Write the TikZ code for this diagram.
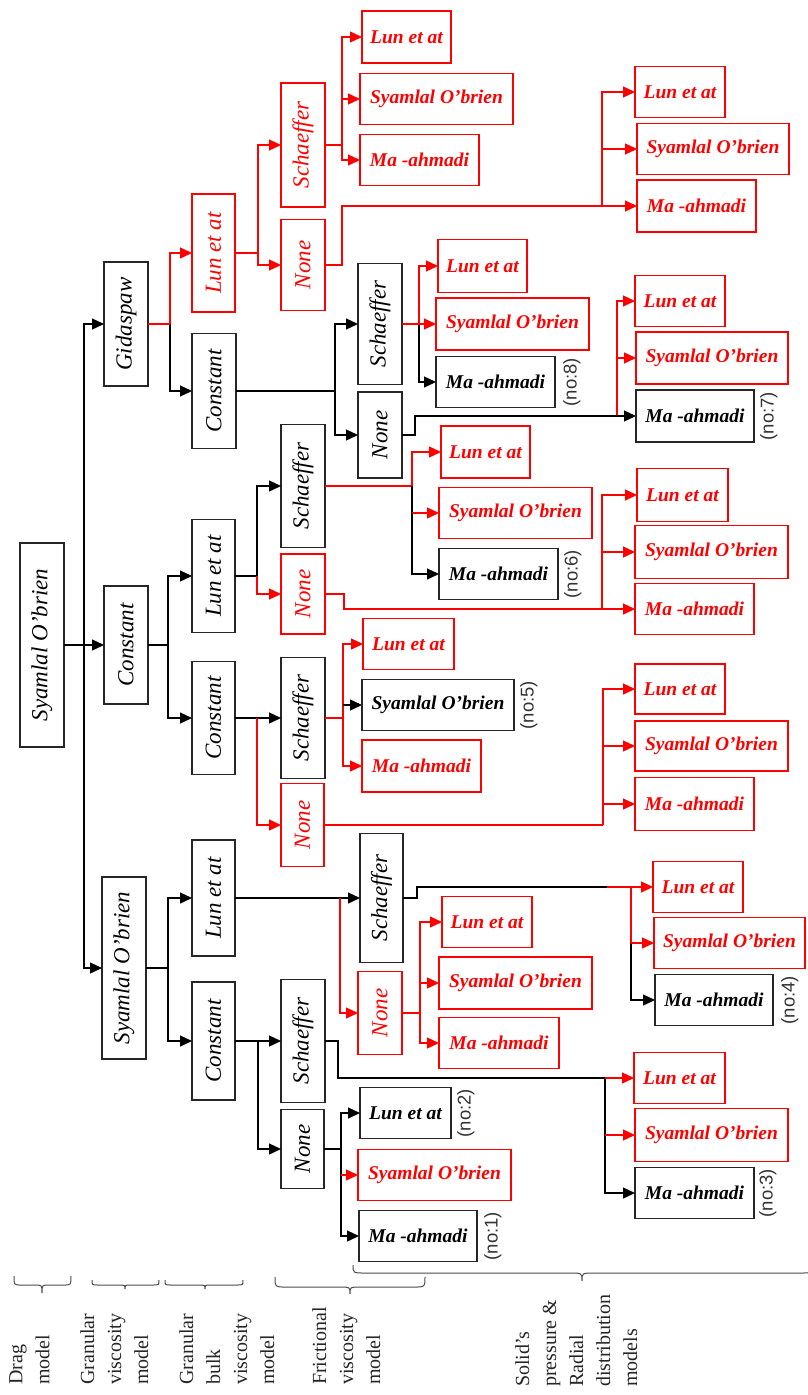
\documentclass[tikz,border=0pt]{standalone}
\usepackage{fontspec}
\setmainfont{Liberation Serif}
\newfontfamily\nofont{Liberation Sans}
\usepackage{graphicx}
\usetikzlibrary{arrows.meta}
\newcommand{\mkV}[6]{\node[bx,#1,minimum width=#4pt,minimum height=#5pt] (#2) at (#3) {\rotatebox{90}{#6}};}
\newcommand{\mkH}[6]{\node[bx,ht,#1,minimum width=#4pt,minimum height=#5pt] (#2) at (#3) {#6};}
\newcommand{\mybrace}[7]{%
\draw[brc] (#1,#4) .. controls (#1,#5) .. ({#1+#7},#5) -- ({#3-#7},#5) .. controls (#3,#5) .. (#3,#6) .. controls (#3,#5) .. ({#3+#7},#5) -- ({#2-#7},#5) .. controls (#2,#5) .. (#2,#4);}
\begin{document}
\begin{tikzpicture}[x=1pt,y=-1pt,
 bx/.style={draw=black!85, line width=1.4pt, inner sep=0pt, outer sep=0pt, text=black},
 rd/.style={draw=red, text=red},
 vt/.style={font=\fontsize{23}{27}\selectfont\itshape},
 ht/.style={font=\fontsize{19.5}{23}\selectfont\bfseries\itshape},
 ln/.style={line width=1.3pt, draw=black},
 rl/.style={line width=1.3pt, draw=red},
 ar/.style={-{Triangle[length=12pt,width=11pt]}},
 nol/.style={rotate=90, anchor=north, font=\nofont\fontsize{18.5}{21}\selectfont, text=black!80, inner sep=0pt},
 lab/.style={rotate=90, anchor=north west, align=left, font=\fontsize{20}{27}\selectfont, inner sep=0pt, text=black!85},
 brc/.style={line width=1pt, draw=black!70}]
\fill[white] (0,0) rectangle (807,1395);
\useasboundingbox (0,0) rectangle (807,1395);
% Level 0
\mkV{vt}{root}{42,645}{44}{204}{Syamlal O’brien}
% Level 1
\mkV{vt}{gA}{126,324}{44}{124}{Gidaspaw}
\mkV{vt}{cA}{126,645}{44}{118}{Constant}
\mkV{vt}{sA}{124,968}{44}{182}{Syamlal O’brien}
% Level 2
\mkV{vt,rd}{gL}{213.5,253}{43}{118}{Lun et at}
\mkV{vt}{gC}{214,391}{44}{115}{Constant}
\mkV{vt}{cL}{213.5,576}{43}{113}{Lun et at}
\mkV{vt}{cC}{213.5,718}{43}{113}{Constant}
\mkV{vt}{sL}{213.5,898}{43}{116}{Lun et at}
\mkV{vt}{sC}{213.5,1041}{43}{118}{Constant}
% Level 3
\mkV{vt,rd}{gLs}{303,145}{44}{124}{Schaeffer}
\mkV{vt,rd}{gLn}{303,265}{44}{91}{None}
\mkV{vt}{gCs}{380,324}{44}{121}{Schaeffer}
\mkV{vt}{gCn}{380,435}{44}{86}{None}
\mkV{vt}{cLs}{303,486}{44}{123}{Schaeffer}
\mkV{vt,rd}{cLn}{303,594}{44}{80}{None}
\mkV{vt}{cCs}{303,718}{44}{121}{Schaeffer}
\mkV{vt,rd}{cCn}{302.5,825}{43}{83}{None}
\mkV{vt}{sLs}{381.5,898}{43}{129}{Schaeffer}
\mkV{vt,rd}{sLn}{380,1013}{44}{83}{None}
\mkV{vt}{sCs}{303,1041}{44}{123}{Schaeffer}
\mkV{vt}{sCn}{302.5,1149}{43}{79}{None}
% Leaves
\mkH{rd}{a1}{406.5,37}{89}{52}{Lun et at}
\mkH{rd}{a2}{436.5,99}{153}{51}{Syamlal O’brien}
\mkH{rd}{a3}{419.5,160}{119}{51}{Ma -ahmadi}
\mkH{rd}{b1}{680,92}{90}{51}{Lun et at}
\mkH{rd}{b2}{713,149}{152}{51}{Syamlal O’brien}
\mkH{rd}{b3}{696.5,206}{119}{52}{Ma -ahmadi}
\mkH{rd}{c1l}{482.5,266}{89}{53}{Lun et at}
\mkH{rd}{c2}{512.5,324}{153}{52}{Syamlal O’brien}
\mkH{}{c3}{495.5,382}{119}{51}{Ma -ahmadi}
\mkH{rd}{d1}{680,301}{90}{51}{Lun et at}
\mkH{rd}{d2}{712,358}{152}{52}{Syamlal O’brien}
\mkH{}{d3}{695,416}{118}{52}{Ma -ahmadi}
\mkH{rd}{e1}{485.5,452}{89}{52}{Lun et at}
\mkH{rd}{e2}{515.5,513}{153}{51}{Syamlal O’brien}
\mkH{}{e3}{498.5,574}{119}{51}{Ma -ahmadi}
\mkH{rd}{f1}{682.5,495}{91}{53}{Lun et at}
\mkH{rd}{f2}{711.5,552}{153}{53}{Syamlal O’brien}
\mkH{rd}{f3}{694.5,609}{119}{51}{Ma -ahmadi}
\mkH{rd}{g1l}{408.5,644}{91}{51}{Lun et at}
\mkH{}{g2}{438,705}{152}{51}{Syamlal O’brien}
\mkH{rd}{g3}{421.5,766}{119}{52}{Ma -ahmadi}
\mkH{rd}{h1}{680,689}{90}{50}{Lun et at}
\mkH{rd}{h2}{711.5,746}{153}{50}{Syamlal O’brien}
\mkH{rd}{h3}{694.5,804}{119}{53}{Ma -ahmadi}
\mkH{rd}{i1}{698,887}{90}{51}{Lun et at}
\mkH{rd}{i2}{729.5,943}{151}{51}{Syamlal O’brien}
\mkH{}{i3}{714,1000}{118}{51}{Ma -ahmadi}
\mkH{rd}{j1}{487,922}{90}{51}{Lun et at}
\mkH{rd}{j2}{515.5,983}{153}{52}{Syamlal O’brien}
\mkH{rd}{j3}{499,1043}{120}{51}{Ma -ahmadi}
\mkH{rd}{k1}{679.5,1078}{91}{51}{Lun et at}
\mkH{rd}{k2}{711.5,1135}{153}{53}{Syamlal O’brien}
\mkH{}{k3}{694.5,1193}{119}{51}{Ma -ahmadi}
\mkH{}{l1}{405.5,1113}{91}{51}{Lun et at}
\mkH{rd}{l2}{434.5,1175}{153}{51}{Syamlal O’brien}
\mkH{}{l3}{418,1236}{118}{51}{Ma -ahmadi}
% number labels
\node[nol] (n8) at ([xshift=8pt]c3.east) {(no:8)};
\node[nol] (n7) at ([xshift=6pt]d3.east) {(no:7)};
\node[nol] (n6) at ([xshift=6pt]e3.east) {(no:6)};
\node[nol] (n5) at ([xshift=6pt]g2.east) {(no:5)};
\node[nol] (n4) at ([xshift=8pt]i3.east) {(no:4)};
\node[nol] (n3) at ([xshift=5pt]k3.east) {(no:3)};
\node[nol] (n2) at ([xshift=6pt]l1.east) {(no:2)};
\node[nol] (n1) at ([xshift=7pt]l3.east) {(no:1)};
% root fork
\coordinate (j0) at (84,645);
\draw[ln] (root.east) -- (j0);
\draw[ln,ar] (j0) |- (gA.west);
\draw[ln,ar] (j0) -- (cA.west);
\draw[ln,ar] (j0) |- (sA.west);
% level 1 forks
\coordinate (jgA) at (170,324);
\draw[ln,ar] (jgA) |- (gC.west);
\draw[rl] (gA.east) -- (jgA);
\draw[rl,ar] (jgA) |- (gL.west);
\coordinate (jcA) at (168,645);
\draw[ln] (cA.east) -- (jcA);
\draw[ln,ar] (jcA) |- (cL.west);
\draw[ln,ar] (jcA) |- (cC.west);
\coordinate (jsA) at (168,968);
\draw[ln] (sA.east) -- (jsA);
\draw[ln,ar] (jsA) |- (sL.west);
\draw[ln,ar] (jsA) |- (sC.west);
% level 2 forks
\coordinate (jgL) at (258,253);
\draw[rl] (gL.east) -- (jgL);
\draw[rl,ar] (jgL) |- (gLs.west);
\draw[rl,ar] (jgL) |- (gLn.west);
\coordinate (jgC) at (335,391);
\draw[ln] (gC.east) -- (jgC);
\draw[ln,ar] (jgC) |- (gCs.west);
\draw[ln,ar] (jgC) |- (gCn.west);
\coordinate (jcL) at (257,576);
\draw[ln] (cL.east) -- (jcL);
\draw[ln,ar] (jcL) |- (cLs.west);
\draw[rl,ar] (jcL) |- (cLn.west);
\coordinate (jcC) at (257,718);
\draw[ln,ar] (cC.east) -- (cCs.west);
\draw[rl,ar] (jcC) |- (cCn.west);
\coordinate (jsL) at (340,898);
\draw[ln,ar] (sL.east) -- (sLs.west);
\draw[rl,ar] (jsL) |- (sLn.west);
\coordinate (jsC) at (258,1041);
\draw[ln,ar] (sC.east) -- (sCs.west);
\draw[ln,ar] (jsC) |- (sCn.west);
% level 3 forks
\coordinate (ja) at (342,145);
\draw[rl] (gLs.east) -- (ja);
\draw[rl,ar] (ja) |- (a1.west);
\draw[rl,ar] (ja) |- (a2.west);
\draw[rl,ar] (ja) |- (a3.west);
\coordinate (jb0) at (342,265);
\coordinate (jb) at (602,206);
\draw[rl] (gLn.east) -- (jb0) |- (jb);
\draw[rl,ar] (jb) -- (b3.west);
\draw[rl,ar] (jb) |- (b1.west);
\draw[rl,ar] (jb) |- (b2.west);
\coordinate (jc) at (419,324);
\draw[ln,ar] (jc) |- (c3.west);
\draw[rl] (gCs.east) -- (jc);
\draw[rl,ar] (jc) |- (c1l.west);
\draw[rl,ar] (jc) -- (c2.west);
\coordinate (jd0) at (415,435);
\coordinate (jd) at (617,416);
\draw[rl,ar] (jd) |- (d1.west);
\draw[rl,ar] (jd) |- (d2.west);
\draw[ln] (gCn.east) -- (jd0) |- (jd);
\draw[ln,ar] (jd) -- (d3.west);
\coordinate (je) at (412,486);
\coordinate (je2) at (412,513);
\draw[rl] (cLs.east) -- (je);
\draw[rl,ar] (je) |- (e1.west);
\draw[ln] (je) -- (je2);
\draw[rl,ar] (je2) -- (e2.west);
\draw[ln,ar] (je2) |- (e3.west);
\coordinate (jf0) at (344,594);
\coordinate (jf) at (602,609);
\draw[rl] (cLn.east) -- (jf0) |- (jf);
\draw[rl,ar] (jf) -- (f3.west);
\draw[rl,ar] (jf) |- (f1.west);
\draw[rl,ar] (jf) |- (f2.west);
\coordinate (jg) at (343,718);
\coordinate (jg2) at (343,705);
\draw[rl] (cCs.east) -- (jg);
\draw[rl,ar] (jg) |- (g1l.west);
\draw[rl,ar] (jg) |- (g3.west);
\draw[ln,ar] (jg2) -- (g2.west);
\coordinate (jh) at (603,825);
\draw[rl] (cCn.east) -- (jh);
\draw[rl,ar] (jh) |- (h1.west);
\draw[rl,ar] (jh) |- (h2.west);
\draw[rl,ar] (jh) |- (h3.west);
\coordinate (ji0) at (417,898);
\coordinate (ji1) at (607,887);
\coordinate (ji) at (631,887);
\coordinate (ji2) at (631,943);
\draw[ln] (sLs.east) -- (ji0) |- (ji1);
\draw[ln,ar] (ji2) |- (i3.west);
\draw[rl,ar] (ji1) -- (i1.west);
\draw[rl] (ji) -- (ji2);
\draw[rl,ar] (ji2) -- (i2.west);
\coordinate (jj) at (420,1013);
\draw[rl] (sLn.east) -- (jj);
\draw[rl,ar] (jj) |- (j1.west);
\draw[rl,ar] (jj) |- (j2.west);
\draw[rl,ar] (jj) |- (j3.west);
\coordinate (jk0) at (338,1041);
\coordinate (jk) at (605,1078);
\draw[ln] (sCs.east) -- (jk0) |- (jk);
\draw[ln,ar] (jk) |- (k3.west);
\draw[rl,ar] (jk) -- (k1.west);
\draw[rl,ar] (jk |- k2.west) -- (k2.west);
\coordinate (jl) at (341,1149);
\draw[ln] (sCn.east) -- (jl);
\draw[ln,ar] (jl) |- (l1.west);
\draw[ln,ar] (jl) |- (l3.west);
\draw[rl,ar] (jl |- l2.west) -- (l2.west);
% braces
\mybrace{14}{71}{42}{1276}{1285}{1293}{7}
\mybrace{92}{159}{125}{1280}{1285}{1289}{6}
\mybrace{165}{243}{205}{1280}{1285}{1289}{6}
\mybrace{275}{425}{350}{1277}{1287}{1294}{10}
\mybrace{353}{812}{582}{1265}{1273}{1281}{12}
% bottom labels
\node[lab] (tDrag) at (9,1385) {Drag\\model};
\node[lab] (tGv) at (80,1385) {Granular\\viscosity\\model};
\node[lab] (tGb) at (179,1385) {Granular\\bulk\\viscosity\\model};
\node[lab] (tFv) at (312,1385) {Frictional\\viscosity\\model};
\node[lab] (tSp) at (515,1387) {Solid’s\\pressure \&\\Radial\\distribution\\models};
\end{tikzpicture}
\end{document}
